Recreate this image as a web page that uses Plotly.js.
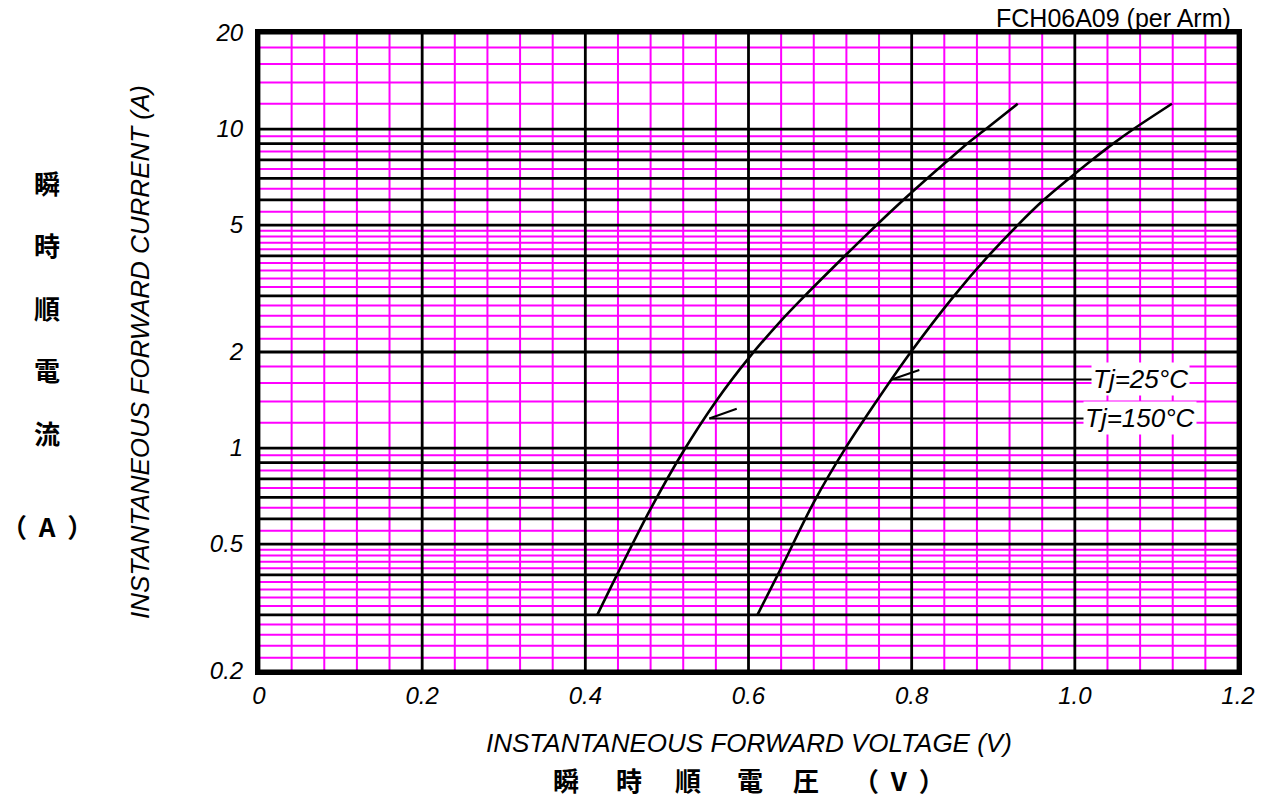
<!DOCTYPE html>
<html>
<head>
<meta charset="utf-8">
<script src="https://cdn.plot.ly/plotly-3.0.1.min.js"></script>
<style>html,body{margin:0;padding:0;background:#fff;}#chart{width:1273px;height:802px;}</style>
</head>
<body>
<div id="chart"></div>
<script>
// ---- data ----
const voltage150 = [0.4147, 0.44, 0.48, 0.52, 0.56, 0.60, 0.64, 0.669, 0.718, 0.757, 0.790, 0.819, 0.845, 0.868, 0.891, 0.930];
const current150 = [0.3, 0.406, 0.644, 0.975, 1.40, 1.91, 2.51, 3, 4, 5, 6, 7, 8, 9, 10, 12];
const voltage25  = [0.611, 0.64, 0.68, 0.72, 0.76, 0.799, 0.852, 0.894, 0.930, 0.962, 0.993, 1.021, 1.047, 1.072, 1.119];
const current25  = [0.3, 0.42, 0.676, 1.01, 1.44, 2, 3, 4, 5, 6, 7, 8, 9, 10, 12];

const xMajorTicks = [0, 0.2, 0.4, 0.6, 0.8, 1.0, 1.2];
const xTickLabels = ['0', '0.2', '0.4', '0.6', '0.8', '1.0', '1.2'];
const xMinorTicks = [0.04,0.08,0.12,0.16, 0.24,0.28,0.32,0.36, 0.44,0.48,0.52,0.56, 0.64,0.68,0.72,0.76, 0.84,0.88,0.92,0.96, 1.04,1.08,1.12,1.16];

const yMajorTicks = [0.2,0.3,0.4,0.5,0.6,0.7,0.8,0.9,1,2,3,4,5,6,7,8,9,10,20];
const yTickLabels = ['0.2','','','0.5','','','','','1','2','','','5','','','','','10','20'];
const yMinorTicks = [0.22,0.24,0.26,0.28, 0.32,0.34,0.36,0.38, 0.42,0.44,0.46,0.48, 0.55,0.65,0.75,0.85,0.95,
                     1.2,1.4,1.6,1.8, 2.2,2.4,2.6,2.8, 3.2,3.4,3.6,3.8, 4.2,4.4,4.6,4.8, 5.5,6.5,7.5,8.5,9.5, 12,14,16,18];

const seriesNames = ['Tj=25°C', 'Tj=150°C'];
// leader-line anchors [tipV, tipI, barbV, barbI, labelV]
const leader25  = [0.7755, 1.64, 0.8094, 1.757, 1.081];
const leader150 = [0.552, 1.238, 0.5856, 1.328, 1.080];

const titleText = 'FCH06A09 (per Arm)';
const xTitle = 'INSTANTANEOUS FORWARD VOLTAGE (V)';
const yTitle = 'INSTANTANEOUS FORWARD CURRENT (A)';
const NB = '\u00a0';
const yCJK = ['瞬','時','順','電','流','（'+NB+NB+'A'+NB+NB+'）'];
const xCJK = ['瞬','時','順','電','圧','（'+NB+NB+'V'+NB+NB+'）'];

// ---- figure ----
const LAT = 'Liberation Sans, Arial, sans-serif';
const CJK = '"Noto Sans CJK JP", "Noto Sans CJK SC", sans-serif';

const curveLine = {color:'#000', width:2.6, shape:'spline', smoothing:0.8};
const traces = [
  {x: voltage25, y: current25, mode:'lines', name: seriesNames[0], line: curveLine, hoverinfo:'skip'},
  {x: voltage150, y: current150, mode:'lines', name: seriesNames[1], line: curveLine, hoverinfo:'skip'}
];

const MAG = '#ff00ff';
const shapes = [];
// magenta minor grid first, black major grid on top of it
yMinorTicks.forEach(v => shapes.push({type:'line', layer:'below', xref:'paper', yref:'y', x0:0, x1:1, y0:v, y1:v,
  line:{color:MAG, width:2}}));
xMinorTicks.forEach(v => shapes.push({type:'line', layer:'below', xref:'x', yref:'paper', x0:v, x1:v, y0:0, y1:1,
  line:{color:MAG, width:2}}));
yMajorTicks.forEach(v => shapes.push({type:'line', layer:'below', xref:'paper', yref:'y', x0:0, x1:1, y0:v, y1:v,
  line:{color:'#000', width:2.8}}));
xMajorTicks.forEach(v => shapes.push({type:'line', layer:'below', xref:'x', yref:'paper', x0:v, x1:v, y0:0, y1:1,
  line:{color:'#000', width:2.8}}));

function leaderShapes(L){
  return [
    {type:'line', xref:'x', yref:'y', x0:L[0], y0:L[1], x1:L[4]-0.03, y1:L[1], line:{color:'#000', width:2}},
    {type:'line', xref:'x', yref:'y', x0:L[0], y0:L[1], x1:L[2], y1:L[3], line:{color:'#000', width:2}}
  ];
}
leaderShapes(leader25).concat(leaderShapes(leader150)).forEach(s => shapes.push(s));

const annotations = [];
function ann(o){ annotations.push(Object.assign({showarrow:false, xanchor:'center', yanchor:'middle'}, o)); }

ann({xref:'x', yref:'y', x:leader25[4], y:Math.log10(leader25[1]), text:seriesNames[0],
  font:{family:LAT, size:26, color:'#000', style:'italic'}, bgcolor:'#fff', borderpad:1});
ann({xref:'x', yref:'y', x:leader150[4], y:Math.log10(leader150[1]), text:seriesNames[1],
  font:{family:LAT, size:26, color:'#000', style:'italic'}, bgcolor:'#fff', borderpad:1});
ann({xref:'paper', yref:'paper', x:0.9949, y:1.0235, xanchor:'right', text:titleText,
  font:{family:LAT, size:25, color:'#000'}});
ann({xref:'paper', yref:'paper', x:-0.1216, y:0.5, textangle:-90, text:yTitle,
  font:{family:LAT, size:26, color:'#000', style:'italic'}});
ann({xref:'paper', yref:'paper', x:0.5, y:-0.1129, text:xTitle,
  font:{family:LAT, size:26, color:'#000', style:'italic'}});

const yCJKpos = [0.765, 0.668, 0.5705, 0.4718, 0.3746, 0.2288];
yCJK.forEach((t,i)=>ann({xref:'paper', yref:'paper', x:-0.2166, y:yCJKpos[i], text:'<b>'+t+'</b>',
  font:{family:CJK, size:26, color:'#000'}}));
const xCJKpos = [0.3131, 0.3776, 0.4381, 0.5015, 0.5590, 0.6537];
xCJK.forEach((t,i)=>ann({xref:'paper', yref:'paper', x:xCJKpos[i], y:-0.1693, text:'<b>'+t+'</b>',
  font:{family:CJK, size:26, color:'#000'}}));

const layout = {
  width:1273, height:802,
  margin:{l:259, r:35, t:33, b:131},
  paper_bgcolor:'#fff', plot_bgcolor:'rgba(0,0,0,0)',
  showlegend:false,
  xaxis:{
    type:'linear', range:[0, 1.2], fixedrange:true,
    tickmode:'array', tickvals:xMajorTicks, ticktext:xTickLabels, ticks:'',
    ticklabelstandoff:0,
    tickfont:{family:LAT, size:24, color:'#000', style:'italic'},
    showgrid:false,
    showline:true, mirror:true, linecolor:'#000', linewidth:4, zeroline:false
  },
  yaxis:{
    type:'log', range:[Math.log10(0.2), Math.log10(20)], fixedrange:true,
    tickmode:'array', tickvals:yMajorTicks, ticktext:yTickLabels, ticks:'',
    ticklabelstandoff:7,
    tickfont:{family:LAT, size:24, color:'#000', style:'italic'},
    showgrid:false,
    showline:true, mirror:true, linecolor:'#000', linewidth:4, zeroline:false
  },
  shapes: shapes,
  annotations: annotations
};

Plotly.newPlot('chart', traces, layout, {staticPlot:true, displayModeBar:false});
</script>
</body>
</html>
